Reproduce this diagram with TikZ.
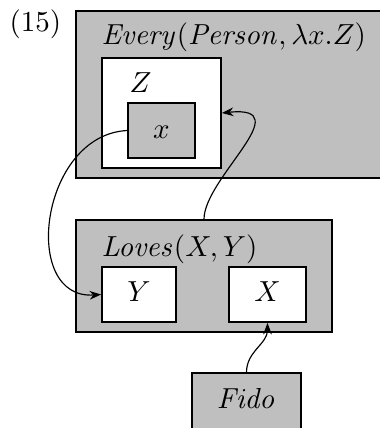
\documentclass[tikz,border=0pt]{standalone}
\usetikzlibrary{fit,arrows.meta}
\begin{document}
\begin{tikzpicture}[x=0.345pt,y=-0.345pt,
  font=\fontsize{10.3}{12.5}\selectfont,
  graybox/.style={draw=black,fill=gray!50,line width=0.5pt,inner sep=0pt},
  whitebox/.style={draw=black,fill=white,line width=0.6pt,inner sep=0pt},
  lbl/.style={inner sep=0pt,anchor=base west},
  ctr/.style={inner sep=0pt,anchor=base},
  conn/.style={line width=0.4pt,-{Stealth[length=4pt,width=3pt]}}]
\useasboundingbox (0,0) rectangle (380,428);
% top box
\coordinate (e1) at (76,11); \coordinate (e2) at (400,178);
\node[graybox,fit=(e1)(e2)] (every) {};
\coordinate (z1) at (102,58); \coordinate (z2) at (221,168);
\node[whitebox,fit=(z1)(z2)] (zbox) {};
\coordinate (x1) at (128,103); \coordinate (x2) at (195,158);
\node[graybox,line width=0.6pt,fit=(x1)(x2)] (xbox) {};
\node[lbl,font=\fontsize{10}{12}\selectfont] (tnum) at (9,31) {(15)};
\node[lbl] (tevery) at (101,44.5) {$\mathit{Every}(\mathit{Person},\lambda x.Z)$};
\node[lbl] (tz) at (129,92) {$Z$};
\node[ctr] (tx) at (161.5,138) {$x$};
% bottom box
\coordinate (l1) at (76,220); \coordinate (l2) at (332,332);
\node[graybox,fit=(l1)(l2)] (loves) {};
\node[lbl] (tloves) at (101,256.5) {$\mathit{Loves}(X,Y)$};
\coordinate (y1) at (102,267); \coordinate (y2) at (176,322);
\node[whitebox,fit=(y1)(y2)] (ybox) {};
\coordinate (X1) at (229,267); \coordinate (X2) at (306,322);
\node[whitebox,fit=(X1)(X2)] (Xbox) {};
\node[ctr] (ty) at (139,301) {$Y$};
\node[ctr] (tX) at (267.5,301) {$X$};
% Fido
\coordinate (f1) at (192,373); \coordinate (f2) at (301,440);
\node[graybox,fit=(f1)(f2)] (fido) {};
\node[ctr] (tfido) at (246.5,408) {$\mathit{Fido}$};
% connectors
\draw[conn] (xbox.west) .. controls (40,135) and (20,300) .. (ybox.west);
\draw[conn] (loves.north -| 204,0) .. controls (204,178) and (300,105) .. (zbox.east);
\draw[conn] (fido.north -| 246.5,0) to[out=90,in=-90] (Xbox.south);
\end{tikzpicture}
\end{document}
